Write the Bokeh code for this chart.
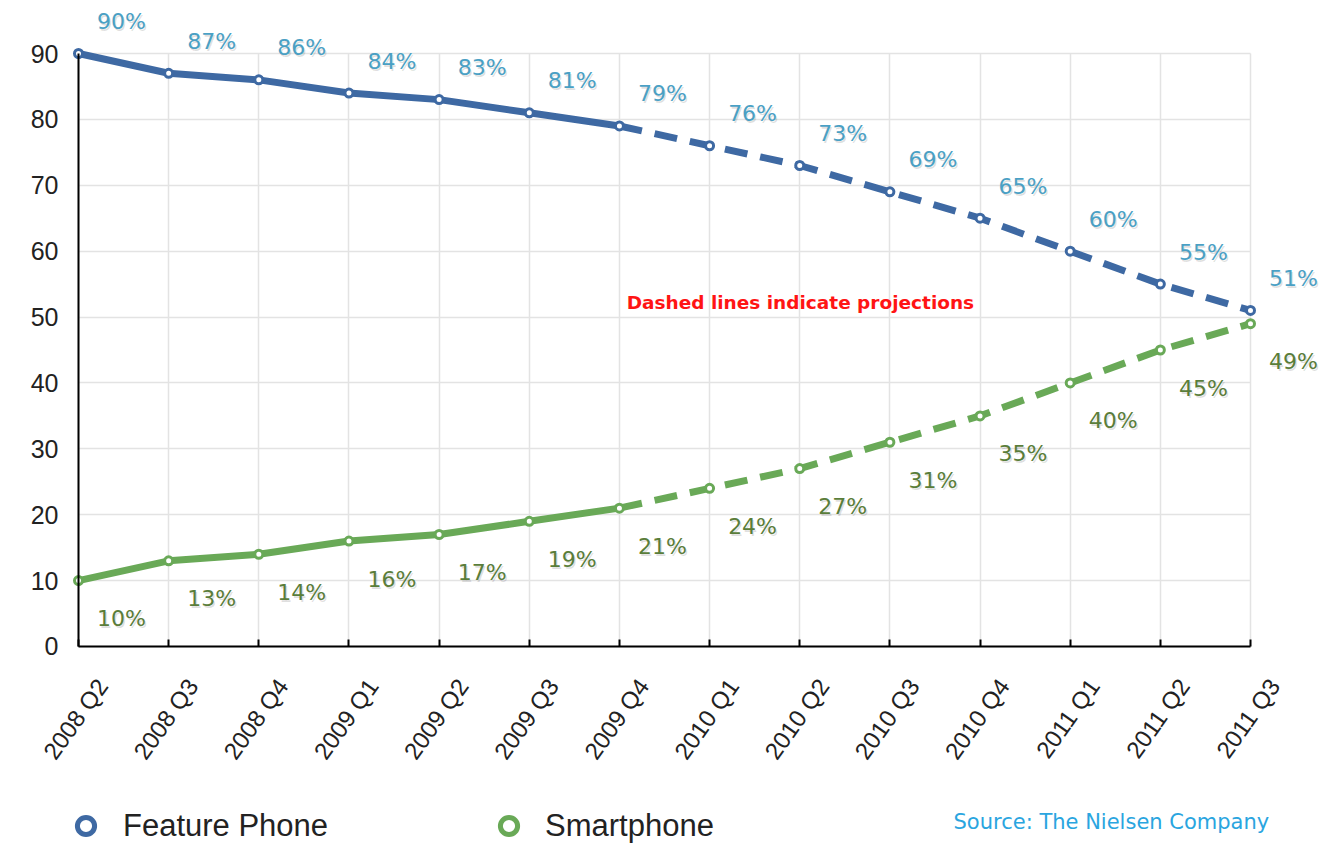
from bokeh.plotting import figure
from bokeh.models import (Range1d, FixedTicker, ColumnDataSource, LabelSet, Label,
                          Legend, LegendItem, Grid, LinearAxis)
from bokeh.core.properties import value
from bokeh.embed import file_html
from bokeh.resources import INLINE

# ---------------- data ----------------
quarters = ["2008 Q2", "2008 Q3", "2008 Q4", "2009 Q1", "2009 Q2", "2009 Q3", "2009 Q4",
            "2010 Q1", "2010 Q2", "2010 Q3", "2010 Q4", "2011 Q1", "2011 Q2", "2011 Q3"]
feature_phone = [90, 87, 86, 84, 83, 81, 79, 76, 73, 69, 65, 60, 55, 51]
smartphone = [10, 13, 14, 16, 17, 19, 21, 24, 27, 31, 35, 40, 45, 49]
last_actual = "2009 Q4"          # later quarters are projections
y_ticks = [0, 10, 20, 30, 40, 50, 60, 70, 80, 90]
series_names = ["Feature Phone", "Smartphone"]
projection_note = "Dashed lines indicate projections"
source_note = "Source: The Nielsen Company"

# ---------------- styles ----------------
FEATURE_COLOR = "#3e69a3"
SMART_COLOR = "#69a957"
FEATURE_LABEL = "#4aa0c4"
SMART_LABEL = "#5a7d3a"
GRID_COLOR = "#e3e3e3"
LABEL_SHIFT = 0.265   # x tick labels sit to the right of their tick (layout only)

xs = list(range(len(quarters)))
split = quarters.index(last_actual)
n_last = len(quarters) - 1

p = figure(width=1324, height=843,
           x_range=Range1d(-0.8652, 13.8208),
           y_range=Range1d(-29.899, 98.044),
           output_backend="svg", toolbar_location=None,
           min_border=0, min_border_left=0, min_border_right=0,
           min_border_top=0, min_border_bottom=0)
p.outline_line_color = None
p.background_fill_color = "white"
p.border_fill_color = "white"

renderers = []
legend_renderers = []
for vals, color in [(feature_phone, FEATURE_COLOR), (smartphone, SMART_COLOR)]:
    p.line(xs[:split + 1], vals[:split + 1], line_width=7, line_color=color,
           line_cap="round", line_join="round")
    p.line(xs[split:], vals[split:], line_width=7, line_color=color,
           line_dash="23 13")
    r = p.scatter(xs, vals, marker="circle", size=8, fill_color="white",
                  line_color=color, line_width=3)
    renderers.append(r)
    lr = p.scatter(xs, vals, marker="circle", size=8, fill_color="white",
                   line_color=color, line_width=5, visible=False)
    legend_renderers.append(lr)

# ---------------- axes ----------------
xa = p.xaxis[0]
xa.fixed_location = 0
xa.ticker = FixedTicker(ticks=xs)
xa.major_label_text_color = None
xa.axis_line_color = "black"
xa.axis_line_width = 2
xa.major_tick_in = 7
xa.major_tick_out = 0
xa.major_tick_line_width = 2
xa.major_tick_line_color = "black"
xa.minor_tick_line_color = None
xa.bounds = (0, n_last)

label_ticks = [i + LABEL_SHIFT for i in xs]
xl = LinearAxis(fixed_location=0,
                ticker=FixedTicker(ticks=label_ticks),
                major_label_overrides={t: q for t, q in zip(label_ticks, quarters)},
                major_label_orientation=0.95,
                major_label_text_font="Liberation Sans",
                major_label_text_font_size="24px",
                major_label_text_color="#222222",
                major_label_standoff=29,
                axis_line_color=None, major_tick_line_color=None,
                minor_tick_line_color=None)
p.add_layout(xl, "below")

ya = p.yaxis[0]
ya.ticker = FixedTicker(ticks=y_ticks)
ya.fixed_location = 0
ya.bounds = (0, 90)
ya.major_label_text_font = "Liberation Sans"
ya.major_label_text_font_size = "25px"
ya.major_label_text_color = "#222222"
ya.axis_line_color = "black"
ya.axis_line_width = 2
ya.major_tick_in = 0
ya.major_tick_out = 0
ya.minor_tick_line_color = None
ya.major_label_standoff = 20

p.xgrid.ticker = FixedTicker(ticks=xs)
p.ygrid.ticker = FixedTicker(ticks=y_ticks)
p.grid.grid_line_color = GRID_COLOR
p.grid.grid_line_width = 1.5
if "cross_bounds" in Grid.properties():
    p.xgrid.cross_bounds = (0, 90)
    p.ygrid.cross_bounds = (0, n_last)

# ---------------- value labels ----------------
for vals, color, dy in [(feature_phone, FEATURE_LABEL, 32), (smartphone, SMART_LABEL, -38)]:
    src = ColumnDataSource(dict(x=xs, y=vals, t=[f"{v}%" for v in vals]))
    shadow = LabelSet(x="x", y="y", text="t", source=src, x_offset=44.5, y_offset=dy - 2,
                      text_align="center", text_baseline="middle",
                      text_font=value("DejaVu Sans"), text_font_size="22px",
                      text_color="#000000", text_alpha=0.12)
    lab = LabelSet(x="x", y="y", text="t", source=src, x_offset=43, y_offset=dy,
                   text_align="center", text_baseline="middle",
                   text_font=value("DejaVu Sans"), text_font_size="22px",
                   text_color=color)
    p.add_layout(shadow)
    p.add_layout(lab)

# ---------------- notes ----------------
p.add_layout(Label(x=6.08, y=52.2, text=projection_note, text_color="#ff1414",
                   text_font="DejaVu Sans", text_font_style="bold",
                   text_font_size="18.5px", text_baseline="middle", text_align="left"))
p.add_layout(Label(x=9.706, y=-26.7, text=source_note, text_color="#2aa5df",
                   text_font="DejaVu Sans", text_font_size="21px",
                   text_baseline="middle", text_align="left"))

# ---------------- legend ----------------
for name, r, loc, standoff in [(series_names[0], legend_renderers[0], (64, -4), 16),
                               (series_names[1], legend_renderers[1], (487, -4), 15)]:
    leg = Legend(items=[LegendItem(label=name, renderers=[r])], location=loc,
                 orientation="horizontal", border_line_color=None,
                 background_fill_alpha=0, padding=0, margin=0,
                 glyph_width=43, glyph_height=43, label_height=43,
                 label_standoff=standoff, label_text_font="Liberation Sans",
                 label_text_font_size="31px", label_text_color="#222222",
                 label_text_baseline="middle", inactive_fill_alpha=0,
                 click_policy="none")
    p.add_layout(leg)

open("out.html", "w").write(file_html(p, INLINE))
